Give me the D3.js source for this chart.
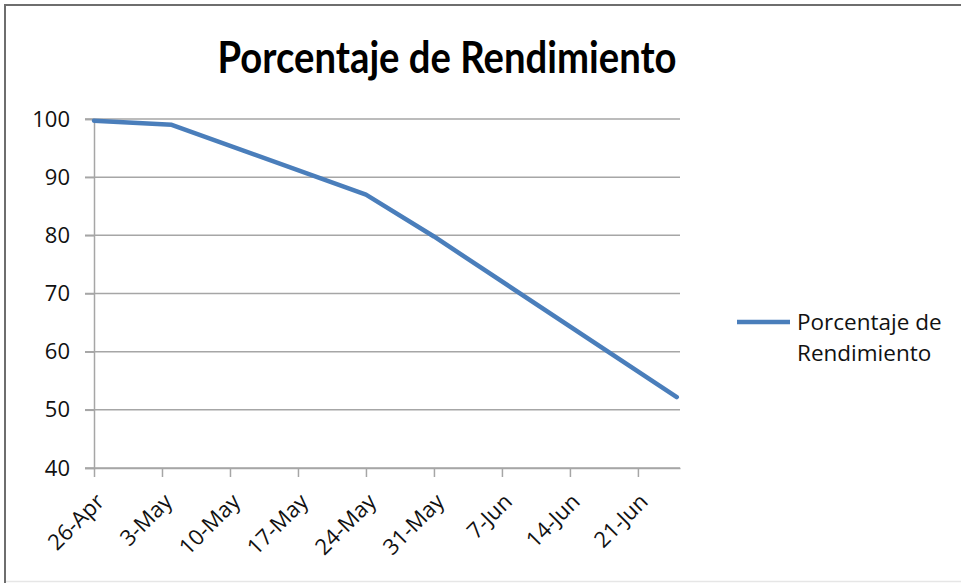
<!DOCTYPE html>
<html>
<head>
<meta charset="utf-8">
<script src="https://cdn.jsdelivr.net/npm/d3@7"></script>
<style>
  body { margin: 0; background: #fff; }
  svg { display: block; font-family: "Open Sans", sans-serif; }
</style>
</head>
<body>
<svg id="chart" width="961" height="583"></svg>
<script>
// chart data
var chartTitle = 'Porcentaje de Rendimiento';
var seriesName = ['Porcentaje de', 'Rendimiento'];
var dates = ['2013-04-26', '2013-05-04', '2013-05-24', '2013-05-31', '2013-06-25'];
var values = [99.7, 99, 87, 79.8, 52.2];
var yTicks = [40, 50, 60, 70, 80, 90, 100];
var xTicks = ['2013-04-26', '2013-05-03', '2013-05-10', '2013-05-17', '2013-05-24',
              '2013-05-31', '2013-06-07', '2013-06-14', '2013-06-21'];
var xStart = '2013-04-26T00:00Z';
var xEnd = '2013-06-25T08:00Z';

var parse = d3.utcParse('%Y-%m-%d');
var fmt = d3.utcFormat('%-d-%b');
var lineColor = '#4a7ebb';
var gridColor = '#a6a6a6';

var svg = d3.select('#chart');
var margin = { left: 94, right: 281, top: 119, bottom: 115 };
var W = 961, H = 583;

// frame around the chart
svg.append('line').attr('x1', 4).attr('x2', W).attr('y1', 5).attr('y2', 5)
  .attr('stroke', '#6e6e6e').attr('stroke-width', 2);
svg.append('line').attr('x1', 5).attr('x2', 5).attr('y1', 4).attr('y2', H)
  .attr('stroke', '#6e6e6e').attr('stroke-width', 2);
svg.append('line').attr('x1', 6).attr('x2', W).attr('y1', 581.5).attr('y2', 581.5)
  .attr('stroke', '#e6e6e6').attr('stroke-width', 1.5);

var x = d3.scaleUtc()
  .domain([new Date(xStart), new Date(xEnd)])
  .range([margin.left, W - margin.right]);
var y = d3.scaleLinear()
  .domain([d3.min(yTicks), d3.max(yTicks)])
  .range([H - margin.bottom, margin.top]);

var data = dates.map(function (d, i) { return { date: parse(d), value: values[i] }; });

// horizontal gridlines
svg.append('g')
  .selectAll('line')
  .data(yTicks)
  .join('line')
    .attr('x1', margin.left - 9)
    .attr('x2', W - margin.right)
    .attr('y1', function (d) { return y(d); })
    .attr('y2', function (d) { return y(d); })
    .attr('stroke', gridColor)
    .attr('stroke-width', 1.5);

// y axis
var yAxis = svg.append('g')
  .attr('transform', 'translate(' + margin.left + ',0)')
  .call(d3.axisLeft(y).tickValues(yTicks).tickSize(9).tickPadding(15));
yAxis.select('.domain').attr('stroke', gridColor).attr('stroke-width', 1.5);
yAxis.selectAll('.tick line').attr('stroke', gridColor).attr('stroke-width', 1.5);
yAxis.selectAll('text')
  .attr('fill', '#111')
  .style('font-size', '22px')
  .style('font-family', '"Open Sans", sans-serif');

// x axis
var xAxis = svg.append('g')
  .attr('transform', 'translate(0,' + (H - margin.bottom) + ')')
  .call(d3.axisBottom(x).tickValues(xTicks.map(parse)).tickFormat(fmt).tickSize(9).tickSizeOuter(0));
xAxis.select('.domain').attr('stroke', gridColor).attr('stroke-width', 1.5);
xAxis.selectAll('.tick line').attr('stroke', gridColor).attr('stroke-width', 1.5);
xAxis.selectAll('text')
  .attr('fill', '#111')
  .style('font-size', '22px')
  .style('font-family', '"Open Sans", sans-serif')
  .attr('text-anchor', 'end')
  .attr('dy', null)
  .attr('y', 0)
  .attr('transform', 'translate(11,35) rotate(-45)');

// the series line
svg.append('path')
  .datum(data)
  .attr('fill', 'none')
  .attr('stroke', lineColor)
  .attr('stroke-width', 4.5)
  .attr('stroke-linejoin', 'round')
  .attr('stroke-linecap', 'round')
  .attr('d', d3.line()
    .x(function (d) { return x(d.date); })
    .y(function (d) { return y(d.value); }));

// title
svg.append('text')
  .attr('x', 447)
  .attr('y', 73)
  .attr('text-anchor', 'middle')
  .attr('textLength', 459)
  .attr('lengthAdjust', 'spacingAndGlyphs')
  .style('font-family', 'Lato, "Open Sans", sans-serif')
  .style('font-size', '44px')
  .style('font-weight', 'bold')
  .attr('fill', '#000')
  .text(chartTitle);

// legend
var legend = svg.append('g').attr('transform', 'translate(737,322)');
legend.append('line')
  .attr('x1', 0).attr('x2', 53)
  .attr('stroke', lineColor).attr('stroke-width', 4.5);
legend.selectAll('text')
  .data(seriesName)
  .join('text')
    .attr('x', 60)
    .attr('y', function (d, i) { return 8 + i * 31; })
    .style('font-size', '22.5px')
    .attr('fill', '#111')
    .text(function (d) { return d; });
</script>
</body>
</html>
